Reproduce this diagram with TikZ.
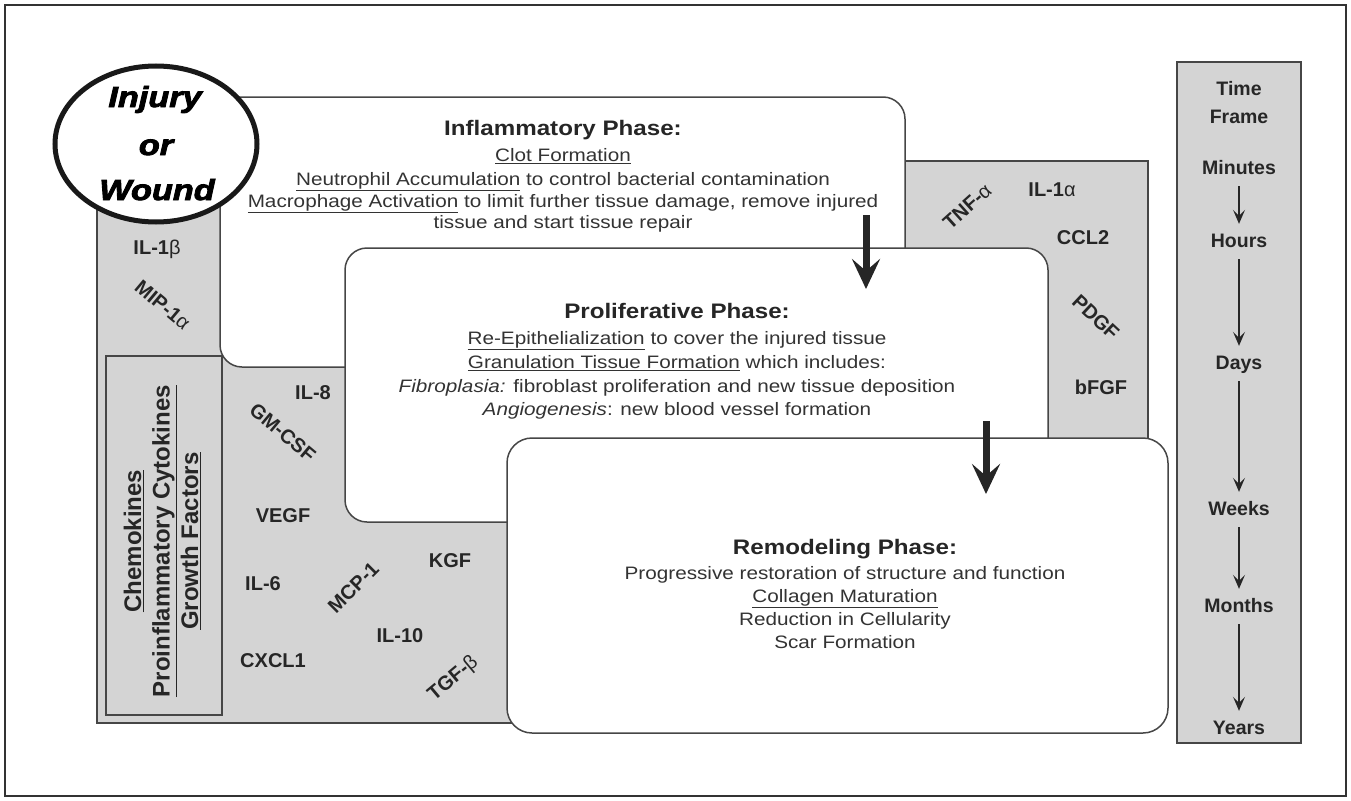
\documentclass[tikz,border=0pt]{standalone}
\usepackage{fontspec}
\setmainfont{Liberation Sans}
\newfontfamily\widefont[FakeStretch=1.15]{Liberation Sans}
\newfontfamily\woundfont[FakeStretch=1.18, FakeBold=3]{Liberation Sans}
\usetikzlibrary{shapes.geometric,arrows.meta}
\definecolor{pat}{RGB}{212,212,212}
\definecolor{edge}{RGB}{70,70,70}
\tikzset{
  phasebox/.style={draw=edge, line width=1.5pt, fill=white, rounded corners=22pt},
  graybox/.style={draw=edge, line width=1.5pt, fill=pat},
  lbl/.style={font=\bfseries\fontsize{20}{24}\selectfont, inner sep=0pt, text height=14.5pt, text depth=0pt, text=black!85},
  bodyline/.style={font=\widefont\fontsize{18}{22}\selectfont, inner sep=0pt, text height=13pt, text depth=0pt, text=black!80},
  titleline/.style={font=\widefont\bfseries\fontsize{21}{25}\selectfont, inner sep=0pt, text height=15pt, text depth=0pt, text=black!85},
  tf/.style={font=\bfseries\fontsize{19.5}{23}\selectfont, inner sep=0pt, text height=14pt, text depth=0pt, text=black!85},
  woundtxt/.style={font=\woundfont\bfseries\itshape\fontsize{29}{34}\selectfont, inner sep=0pt, anchor=base},
  bigarrow/.style={line width=7pt, draw=black!85, -{Stealth[length=30pt,width=28pt,inset=12pt]}},
  tfarrow/.style={line width=1.3pt, draw=black!85, -{Stealth[length=14pt,width=12pt,inset=6pt]}, shorten <=12pt, shorten >=9pt},
}
\begin{document}
\begin{tikzpicture}[x=1pt,y=-1pt]
\useasboundingbox (0,0) rectangle (1351,800);
% outer frame
\draw[line width=1.5pt, black!80] (5,5) rectangle (1346,796);
% gray background region
\draw[graybox] (97,161) rectangle (1148,723);
% inflammatory box
\draw[phasebox] (220,97) rectangle (905,367);
% injury ellipse
\node[ellipse, draw=black!90, line width=5pt, fill=white, minimum width=202pt, minimum height=156pt, inner sep=0pt] (wound) at (156,144) {};
\node[woundtxt] (wA) at (155,107) {Injury};
\node[woundtxt] (wB) at (156,155) {or};
\node[woundtxt] (wC) at (157,200) {Wound};
% proliferative and remodeling boxes
\draw[phasebox] (345,248) rectangle (1048,522);
\draw[phasebox, rounded corners=25pt] (507,438) rectangle (1168,733);
% legend box
\draw[graybox, line width=2pt] (106,356) rectangle (222,715);
\node[rotate=90, align=center, inner sep=0pt, font=\bfseries\fontsize{24}{28.5}\selectfont, text=black!85] (legend) at (162,541)
  {\underline{Chemokines}\\\underline{Proinflammatory Cytokines}\\\underline{Growth Factors}};
% cytokine labels
\node[lbl] (il1b) at (157,247) {IL-1{\mdseries β}};
\node[lbl, rotate=-40] (mip) at (163,305) {MIP-1{\mdseries α}};
\node[lbl] (il8) at (313,392) {IL-8};
\node[lbl, rotate=-40] (gmcsf) at (283,432) {GM-CSF};
\node[lbl] (vegf) at (283,515) {VEGF};
\node[lbl] (il6) at (263,583) {IL-6};
\node[lbl, rotate=45] (mcp) at (353,587) {MCP-1};
\node[lbl] (kgf) at (450,560) {KGF};
\node[lbl] (il10) at (400,635) {IL-10};
\node[lbl] (cxcl) at (273,660) {CXCL1};
\node[lbl, rotate=40] (tgfb) at (452,677) {TGF-{\mdseries β}};
\node[lbl, rotate=42] (tnfa) at (967,206) {TNF-{\mdseries α}};
\node[lbl] (il1a) at (1052,189) {IL-1{\mdseries α}};
\node[lbl] (ccl2) at (1083,237) {CCL2};
\node[lbl, rotate=-43] (pdgf) at (1096,317) {PDGF};
\node[lbl] (bfgf) at (1101,387) {bFGF};
% inflammatory text
\node[titleline] (infT) at (563,128) {Inflammatory Phase:};
\node[bodyline] (infA) at (563,155) {\underline{Clot Formation}};
\node[bodyline] (infB) at (563,179) {\underline{Neutrophil Accumulation} to control bacterial contamination};
\node[bodyline] (infC) at (563,201) {\underline{Macrophage Activation} to limit further tissue damage, remove injured};
\node[bodyline] (infD) at (563,222) {tissue and start tissue repair};
% proliferative text
\node[titleline] (proT) at (677,311) {Proliferative Phase:};
\node[bodyline] (proA) at (677,338) {\underline{Re-Epithelialization} to cover the injured tissue};
\node[bodyline] (proB) at (677,362) {\underline{Granulation Tissue Formation} which includes:};
\node[bodyline] (proC) at (677,386) {\textit{Fibroplasia:} fibroblast proliferation and new tissue deposition};
\node[bodyline] (proD) at (677,409) {\textit{Angiogenesis}: new blood vessel formation};
% remodeling text
\node[titleline] (remT) at (845,547) {Remodeling Phase:};
\node[bodyline] (remA) at (845,573) {Progressive restoration of structure and function};
\node[bodyline] (remB) at (845,596) {\underline{Collagen Maturation}};
\node[bodyline] (remC) at (845,619) {Reduction in Cellularity};
\node[bodyline] (remD) at (845,642) {Scar Formation};
% phase arrows
\coordinate (a1s) at (866,215);
\coordinate (a1e) at (866,289);
\coordinate (a2s) at (986,421);
\coordinate (a2e) at (986,494);
\draw[bigarrow] (a1s) -- (a1e);
\draw[bigarrow] (a2s) -- (a2e);
% time frame
\draw[graybox, line width=1.5pt] (1177,62) rectangle (1301,743);
\node[tf] (tTime) at (1239,88) {Time};
\node[tf] (tFrame) at (1239,116) {Frame};
\node[tf] (tMin) at (1239,167) {Minutes};
\node[tf] (tHrs) at (1239,240) {Hours};
\node[tf] (tDay) at (1239,362) {Days};
\node[tf] (tWk) at (1239,508) {Weeks};
\node[tf] (tMo) at (1239,605) {Months};
\node[tf] (tYr) at (1239,727) {Years};
\draw[tfarrow] (tMin) -- (tHrs);
\draw[tfarrow] (tHrs) -- (tDay);
\draw[tfarrow] (tDay) -- (tWk);
\draw[tfarrow] (tWk) -- (tMo);
\draw[tfarrow] (tMo) -- (tYr);
\end{tikzpicture}
\end{document}
